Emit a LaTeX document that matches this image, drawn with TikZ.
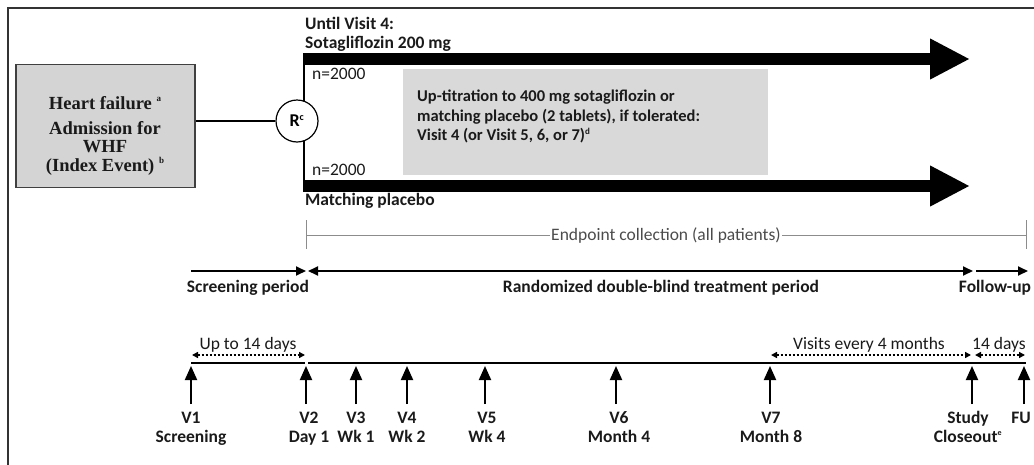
\documentclass[tikz,border=0pt]{standalone}
\usepackage{fontspec}
\setmainfont{Liberation Serif}
\newfontfamily\carlito{Carlito}
\usetikzlibrary{arrows.meta}
\definecolor{boxgray}{HTML}{D4D4D4}
\definecolor{utgray}{HTML}{D9D9D9}
\definecolor{txt}{HTML}{1A1A1A}
\begin{document}
\begin{tikzpicture}[x=1pt,y=-1pt,
  sansb/.style={font=\carlito\bfseries\fontsize{17.5}{19}\selectfont, text=txt, inner sep=0pt},
  sansr/.style={font=\carlito\fontsize{17.5}{19}\selectfont, text=txt, inner sep=0pt},
  serifb/.style={font=\bfseries\fontsize{18.5}{20}\selectfont, text=txt, inner sep=0pt},
  bigarrow/.style={line width=11.5pt, -{Triangle[length=40pt,width=38pt]}},
  period/.style={line width=1.8pt, -{Triangle[length=10pt,width=9pt]}},
  periodboth/.style={line width=1.8pt, {Triangle[length=10pt,width=9pt]}-{Triangle[length=10pt,width=9pt]}},
  dotarrow/.style={line width=1.6pt, dash pattern=on 2pt off 2pt, {Triangle[length=6pt,width=6pt]}-{Triangle[length=6pt,width=6pt]}},
  visit/.style={line width=2pt, -{Triangle[length=14pt,width=12pt]}},
]
\useasboundingbox (0,0) rectangle (1034,464);
\clip (0,0) rectangle (1034,464);
% frame
\draw[line width=1.2pt, black!80] (1040,8) -- (8,8) -- (8,470);

% left box
\node[draw=black!75, line width=1.2pt, fill=boxgray, minimum width=179pt, minimum height=123pt, inner sep=0pt] (hf) at (105.5,126) {};
\node[serifb, anchor=base] (hft) at (105,109) {Heart failure \raisebox{8pt}{\fontsize{9}{9}\selectfont a}};
\node[serifb, anchor=base] (admt) at (105,134) {Admission for};
\node[serifb, anchor=base] (whft) at (105,152) {WHF};
\node[serifb, anchor=base] (idxt) at (105,171) {(Index Event) \raisebox{8pt}{\fontsize{9}{9}\selectfont b}};

% randomisation
\coordinate (topstart) at (303,59);
\coordinate (topend) at (970,59);
\coordinate (botstart) at (303,186);
\coordinate (botend) at (970,186);
\draw[line width=1.5pt] (304,59) coordinate (vt) -- (304,186) coordinate (vb);
\node[circle, draw, line width=1.2pt, fill=white, minimum size=42pt, inner sep=0pt, font=\carlito\bfseries\fontsize{18}{18}\selectfont] (R) at (297,121) {R\textsuperscript{\fontsize{10}{10}\selectfont c}};
\draw[line width=1.2pt] (R.west) -- (R.west -| hf.east);
\draw[bigarrow] (topstart) -- (topend);
\draw[bigarrow] (botstart) -- (botend);

\node[sansb, anchor=base west] (until) at (305,29) {Until Visit 4:};
\node[sansb, anchor=base west] (sota) at (305,48) {Sotagliflozin 200 mg};
\node[sansr, anchor=base west] (n1) at (312,79) {n=2000};
\node[sansr, anchor=base west] (n2) at (312,175) {n=2000};
\node[sansb, anchor=base west] (mp) at (305,205) {Matching placebo};

% up-titration box
\node[fill=utgray, minimum width=365pt, minimum height=106pt, inner sep=0pt, anchor=north west] (ut) at (403,69) {};
\node[sansb, font=\carlito\bfseries\fontsize{16.5}{19.5}\selectfont, anchor=north west, align=left] (utt) at (417,90) {Up-titration to 400 mg sotagliflozin or\\matching placebo (2 tablets), if tolerated:\\Visit 4 (or Visit 5, 6, or 7)\textsuperscript{\fontsize{9}{9}\selectfont d}};

% endpoint collection
\coordinate (ep1) at (306,235);
\coordinate (ep2) at (1026,235);
\draw[black!45, line width=1pt] (ep1) -- (ep2);
\draw[black!45, line width=1pt] (306,220) -- (306,249);
\draw[black!45, line width=1pt] (1026,220) -- (1026,249);
\node[sansr, fill=white, inner xsep=1pt, inner ysep=2pt, text=black!70] (ept) at (666,236) {Endpoint collection (all patients)};

% periods
\coordinate (p1) at (191,271);
\coordinate (p2) at (306,271);
\coordinate (p3) at (308,271);
\coordinate (p4) at (973,271);
\coordinate (p5) at (976,271);
\coordinate (p6) at (1028,271);
\draw[period] (p1) -- (p2);
\draw[periodboth] (p3) -- (p4);
\draw[period] (p5) -- (p6);
\node[sansb, anchor=base] (sp) at (248,292) {Screening period};
\node[sansb, anchor=base] (rp) at (661,292) {Randomized\ double-blind\ treatment period};
\node[sansb, anchor=base] (fp) at (995,292) {Follow-up};

% timeline
\coordinate (t1) at (191,363);
\coordinate (t2) at (305,363);
\coordinate (t3) at (308,363);
\coordinate (t4) at (1026,363);
\draw[line width=1.8pt] (t1) -- (t2);
\draw[line width=1.8pt] (t3) -- (t4);

% dotted intervals
\coordinate (d1) at (192,355);
\coordinate (d2) at (305,355);
\coordinate (d3) at (771,355);
\coordinate (d4) at (971,355);
\coordinate (d5) at (975,355);
\coordinate (d6) at (1025,355);
\draw[dotarrow] (d1) -- (d2);
\draw[dotarrow] (d3) -- (d4);
\draw[dotarrow] (d5) -- (d6);
\node[sansr, anchor=base] (up14) at (248,349) {Up to 14 days};
\node[sansr, anchor=base] (ve4) at (869,349) {Visits every 4 months};
\node[sansr, anchor=base] (d14) at (999,349) {14 days};

% visits
\foreach \x/\lx/\n/\a/\b in {191/191/1/V1/Screening, 306/309/2/V2/Day 1, 356/356/3/V3/Wk 1, 407/407/4/V4/Wk 2, 485/487/5/V5/Wk 4, 616/619/6/V6/Month 4, 770/771/7/V7/Month 8, 972/968/8/Study/{Closeout\textsuperscript{\fontsize{8}{8}\selectfont e}}, 1024/1021/9/FU/{}}{
  \coordinate (vb\n) at (\x,404);
  \coordinate (vt\n) at (\x,366);
  \draw[visit] (vb\n) -- (vt\n);
  \node[sansb, anchor=base] (va\n) at (\lx,423) {\a};
  \node[sansb, anchor=base] (vl\n) at (\lx,442) {\b};
}
\end{tikzpicture}
\end{document}
